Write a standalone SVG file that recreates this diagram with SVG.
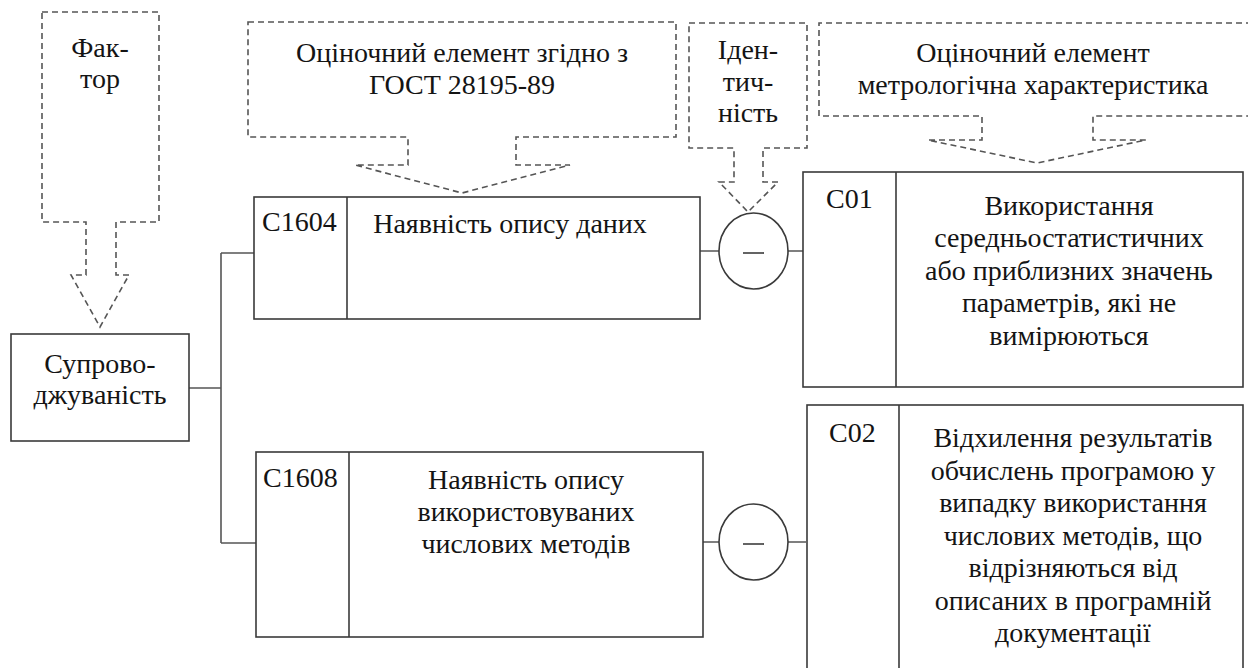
<svg xmlns="http://www.w3.org/2000/svg" width="1248" height="668" viewBox="0 0 1248 668">
<style>
.box{fill:#fff;stroke:#3a3a3a;stroke-width:1.6}
.dash{fill:none;stroke:#555;stroke-width:1.6;stroke-dasharray:6 4}
.conn{fill:none;stroke:#555;stroke-width:1.6}
</style>
<rect width="1248" height="668" fill="#fff"/>
<g id="connectors">
<path class="conn" d="M189,388 H221 M221,253 V543 M221,253 H254 M221,543 H256"/>
<path class="conn" d="M700,251 H719 M788,251 H803"/>
<path class="conn" d="M703,542 H719 M788,542 H806"/>
</g>
<g id="factor">
<path class="dash" d="M42,12 H159 V222 H116 V275 H129 L100,327 L71,275 H86 V222 H42 Z"/>
<text x="100" y="57" font-family="Liberation Serif, Tinos, DejaVu Serif, serif" font-size="28" fill="#141414" text-anchor="middle">Фак-</text>
<text x="100" y="88" font-family="Liberation Serif, Tinos, DejaVu Serif, serif" font-size="28" fill="#141414" text-anchor="middle">тор</text>
</g>
<g id="gost">
<path class="dash" d="M248,22 H676 V137 H516 V165 H570 L462,193 L355,165 H408 V137 H248 Z"/>
<text x="462" y="62" font-family="Liberation Serif, Tinos, DejaVu Serif, serif" font-size="28" fill="#141414" text-anchor="middle">Оціночний елемент згідно з</text>
<text x="462" y="94" font-family="Liberation Serif, Tinos, DejaVu Serif, serif" font-size="28" fill="#141414" text-anchor="middle">ГОСТ 28195-89</text>
</g>
<g id="identity">
<path class="dash" d="M689,23 H807 V148 H763 V182 H778 L748,212 L719,182 H734 V148 H689 Z"/>
<text x="748" y="59" font-family="Liberation Serif, Tinos, DejaVu Serif, serif" font-size="28" fill="#141414" text-anchor="middle">Іден-</text>
<text x="748" y="91" font-family="Liberation Serif, Tinos, DejaVu Serif, serif" font-size="28" fill="#141414" text-anchor="middle">тич-</text>
<text x="748" y="122" font-family="Liberation Serif, Tinos, DejaVu Serif, serif" font-size="28" fill="#141414" text-anchor="middle">ність</text>
</g>
<g id="metrology">
<path class="dash" d="M1262,23 H819 V116 H982 V140 H928 L1037,163 L1146,140 H1093 V116 H1262"/>
<text x="1033" y="62" font-family="Liberation Serif, Tinos, DejaVu Serif, serif" font-size="28" fill="#141414" text-anchor="middle">Оціночний елемент</text>
<text x="1033" y="94" font-family="Liberation Serif, Tinos, DejaVu Serif, serif" font-size="28" fill="#141414" text-anchor="middle">метрологічна характеристика</text>
</g>
<g id="supportability">
<rect class="box" x="11" y="334" width="178" height="107"/>
<text x="100" y="373" font-family="Liberation Serif, Tinos, DejaVu Serif, serif" font-size="28" fill="#141414" text-anchor="middle">Супрово-</text>
<text x="100" y="404" font-family="Liberation Serif, Tinos, DejaVu Serif, serif" font-size="28" fill="#141414" text-anchor="middle">джуваність</text>
</g>
<g id="c1604">
<rect class="box" x="254" y="197" width="446" height="122"/>
<line class="box" x1="347" y1="197" x2="347" y2="319"/>
<text x="262" y="231" font-family="Liberation Serif, Tinos, DejaVu Serif, serif" font-size="28" fill="#141414">C1604</text>
<text x="510" y="233" font-family="Liberation Serif, Tinos, DejaVu Serif, serif" font-size="28" fill="#141414" text-anchor="middle">Наявність опису даних</text>
</g>
<g id="c1608">
<rect class="box" x="256" y="452" width="447" height="185"/>
<line class="box" x1="349" y1="452" x2="349" y2="637"/>
<text x="263" y="487" font-family="Liberation Serif, Tinos, DejaVu Serif, serif" font-size="28" fill="#141414">C1608</text>
<text x="526" y="489" font-family="Liberation Serif, Tinos, DejaVu Serif, serif" font-size="28" fill="#141414" text-anchor="middle">Наявність опису</text>
<text x="526" y="521" font-family="Liberation Serif, Tinos, DejaVu Serif, serif" font-size="28" fill="#141414" text-anchor="middle">використовуваних</text>
<text x="526" y="553" font-family="Liberation Serif, Tinos, DejaVu Serif, serif" font-size="28" fill="#141414" text-anchor="middle">числових методів</text>
</g>
<g id="op1">
<ellipse class="box" cx="753.5" cy="251" rx="34.5" ry="38"/>
<line x1="743" y1="253" x2="764" y2="253" stroke="#222" stroke-width="1.4"/>
</g>
<g id="op2">
<ellipse class="box" cx="753.5" cy="542" rx="34.5" ry="38"/>
<line x1="743" y1="544" x2="764" y2="544" stroke="#222" stroke-width="1.4"/>
</g>
<g id="c01">
<rect class="box" x="803" y="172" width="440" height="215"/>
<line class="box" x1="896" y1="172" x2="896" y2="387"/>
<text x="826" y="208" font-family="Liberation Serif, Tinos, DejaVu Serif, serif" font-size="28" fill="#141414">C01</text>
<text x="1069" y="215" font-family="Liberation Serif, Tinos, DejaVu Serif, serif" font-size="28" fill="#141414" text-anchor="middle">Використання</text>
<text x="1069" y="247" font-family="Liberation Serif, Tinos, DejaVu Serif, serif" font-size="28" fill="#141414" text-anchor="middle">середньостатистичних</text>
<text x="1069" y="280" font-family="Liberation Serif, Tinos, DejaVu Serif, serif" font-size="28" fill="#141414" text-anchor="middle">або приблизних значень</text>
<text x="1069" y="312" font-family="Liberation Serif, Tinos, DejaVu Serif, serif" font-size="28" fill="#141414" text-anchor="middle">параметрів, які не</text>
<text x="1069" y="345" font-family="Liberation Serif, Tinos, DejaVu Serif, serif" font-size="28" fill="#141414" text-anchor="middle">вимірюються</text>
</g>
<g id="c02">
<rect class="box" x="807" y="405" width="436" height="280"/>
<line class="box" x1="899" y1="405" x2="899" y2="668"/>
<text x="829" y="442" font-family="Liberation Serif, Tinos, DejaVu Serif, serif" font-size="28" fill="#141414">C02</text>
<text x="1073" y="447" font-family="Liberation Serif, Tinos, DejaVu Serif, serif" font-size="28" fill="#141414" text-anchor="middle">Відхилення результатів</text>
<text x="1073" y="480" font-family="Liberation Serif, Tinos, DejaVu Serif, serif" font-size="28" fill="#141414" text-anchor="middle">обчислень програмою у</text>
<text x="1073" y="512" font-family="Liberation Serif, Tinos, DejaVu Serif, serif" font-size="28" fill="#141414" text-anchor="middle">випадку використання</text>
<text x="1073" y="545" font-family="Liberation Serif, Tinos, DejaVu Serif, serif" font-size="28" fill="#141414" text-anchor="middle">числових методів, що</text>
<text x="1073" y="577" font-family="Liberation Serif, Tinos, DejaVu Serif, serif" font-size="28" fill="#141414" text-anchor="middle">відрізняються від</text>
<text x="1073" y="610" font-family="Liberation Serif, Tinos, DejaVu Serif, serif" font-size="28" fill="#141414" text-anchor="middle">описаних в програмній</text>
<text x="1073" y="642" font-family="Liberation Serif, Tinos, DejaVu Serif, serif" font-size="28" fill="#141414" text-anchor="middle">документації</text>
</g>
</svg>
